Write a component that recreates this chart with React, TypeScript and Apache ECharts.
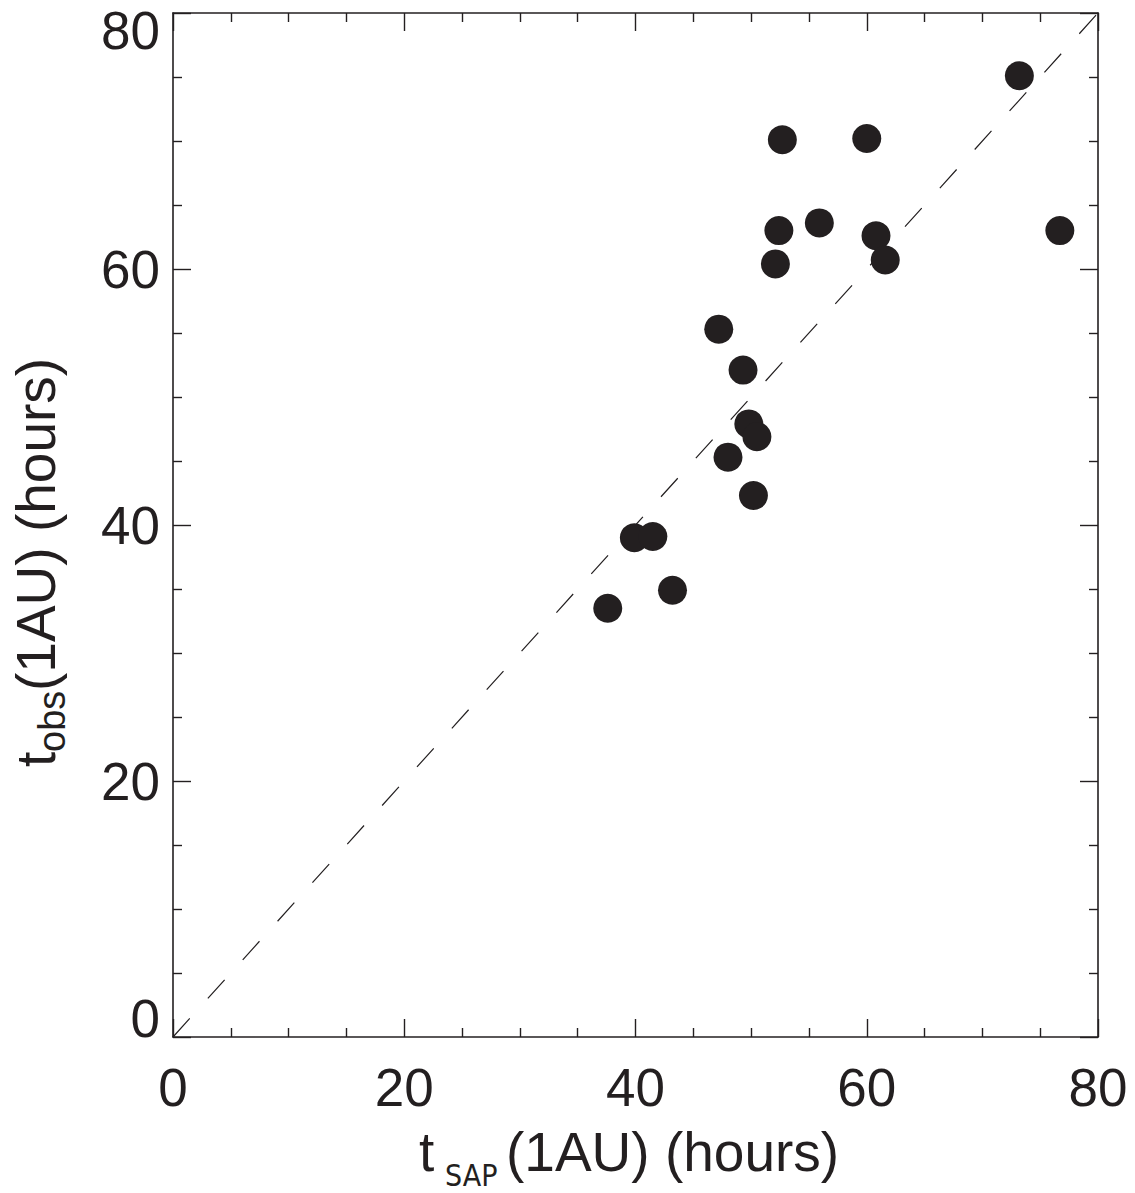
import React, { useEffect, useRef } from "react";
import * as echarts from "echarts";

// t_SAP (1AU) in hours  (x)
const tSap = [37.6, 39.9, 41.5, 43.2, 47.2, 49.3, 49.8, 50.5, 48.0, 50.2, 52.7, 60.0, 52.4, 55.9, 52.1, 60.8, 61.6, 76.7, 73.2];
// t_obs (1AU) in hours  (y)
const tObs = [33.5, 39.0, 39.1, 34.9, 55.3, 52.1, 47.9, 46.9, 45.3, 42.3, 70.1, 70.2, 63.0, 63.6, 60.4, 62.6, 60.7, 63.0, 75.1];
// diagonal reference line y = x
const diagX = [0, 80];
const diagY = [0, 80];
const axisMin = 0;
const axisMax = 80;
const majorStep = 20;

// axis titles: main symbol, subscript, remainder
const xTitle = ["t", "SAP", "(1AU) (hours)"];
const yTitle = ["t", "obs", "(1AU) (hours)"];

const INK = "#231f20";
const FONT = "'Liberation Sans', Arial, Helvetica, sans-serif";
const NARROW = "'Liberation Sans Narrow', 'DejaVu Sans Condensed', 'Liberation Sans', sans-serif";

export default function App() {
  const ref = useRef<HTMLDivElement>(null);

  useEffect(() => {
    if (!ref.current) return;
    const chart = echarts.init(ref.current, undefined, { renderer: "svg" });

    const tickCommon = {
      axisLine: { show: true, onZero: false, lineStyle: { color: INK, width: 1.6 } },
      axisTick: { show: true, inside: true, length: 18, lineStyle: { color: INK, width: 1.4 } },
      minorTick: { show: true, splitNumber: 4, length: 9, lineStyle: { color: INK, width: 1.4 } },
      splitLine: { show: false },
      minorSplitLine: { show: false },
    };

    const txt = (text: string, x: number, y: number, size: number, family: string, rotation = 0) => ({
      type: "text",
      x,
      y,
      rotation,
      silent: true,
      style: { text, fontSize: size, fontFamily: family, fill: INK, align: "left", verticalAlign: "middle" },
    });

    const option: any = {
      animation: false,
      backgroundColor: "#ffffff",
      grid: { left: 173, right: 37, top: 13, bottom: 156, containLabel: false, outerBoundsMode: "none" },
      xAxis: [
        {
          type: "value",
          position: "bottom",
          min: axisMin,
          max: axisMax,
          interval: majorStep,
          ...tickCommon,
          axisLabel: {
            show: true,
            margin: 24,
            fontSize: 53,
            fontFamily: FONT,
            color: INK,
            showMinLabel: true,
            showMaxLabel: true,
          },
        },
        {
          type: "value",
          position: "top",
          min: axisMin,
          max: axisMax,
          interval: majorStep,
          ...tickCommon,
          axisLabel: { show: false },
        },
      ],
      yAxis: [
        {
          type: "value",
          position: "left",
          min: axisMin,
          max: axisMax,
          interval: majorStep,
          ...tickCommon,
          axisLabel: {
            show: true,
            margin: 13,
            fontSize: 53,
            fontFamily: FONT,
            color: INK,
            showMinLabel: true,
            showMaxLabel: true,
            formatter: (v: number) => (v === axisMin ? "{lo|" + v + "}" : v === axisMax ? "{hi|" + v + "}" : String(v)),
            rich: {
              lo: { fontSize: 53, fontFamily: FONT, color: INK, padding: [0, 0, 38, 0] },
              hi: { fontSize: 53, fontFamily: FONT, color: INK, padding: [34, 0, 0, 0] },
            },
          },
        },
        {
          type: "value",
          position: "right",
          min: axisMin,
          max: axisMax,
          interval: majorStep,
          ...tickCommon,
          axisLabel: { show: false },
        },
      ],
      graphic: [
        // x-axis title
        txt(xTitle[0], 419, 1152, 55, FONT),
        txt(xTitle[1], 445, 1175, 30, NARROW),
        txt(xTitle[2], 506, 1152, 55, FONT),
        // y-axis title (rotated, reading upward)
        txt(yTitle[0], 36, 767, 55, FONT, Math.PI / 2),
        txt(yTitle[1], 52, 752, 38, FONT, Math.PI / 2),
        txt(yTitle[2], 36, 691, 55, FONT, Math.PI / 2),
      ],
      series: [
        {
          type: "line",
          xAxisIndex: 0,
          yAxisIndex: 0,
          data: diagX.map((x, i) => [x, diagY[i]]),
          showSymbol: false,
          symbol: "none",
          lineStyle: { color: INK, width: 1.2, type: [25, 27] },
          silent: true,
          z: 1,
        },
        {
          type: "scatter",
          xAxisIndex: 0,
          yAxisIndex: 0,
          data: tSap.map((x, i) => [x, tObs[i]]),
          symbol: "circle",
          symbolSize: 29,
          itemStyle: { color: INK, opacity: 1 },
          z: 3,
        },
      ],
    };

    chart.setOption(option);
    return () => chart.dispose();
  }, []);

  return (
    <div
      ref={ref}
      style={{ position: "absolute", left: 0, top: 0, width: 1135, height: 1193, background: "#fff" }}
    />
  );
}
